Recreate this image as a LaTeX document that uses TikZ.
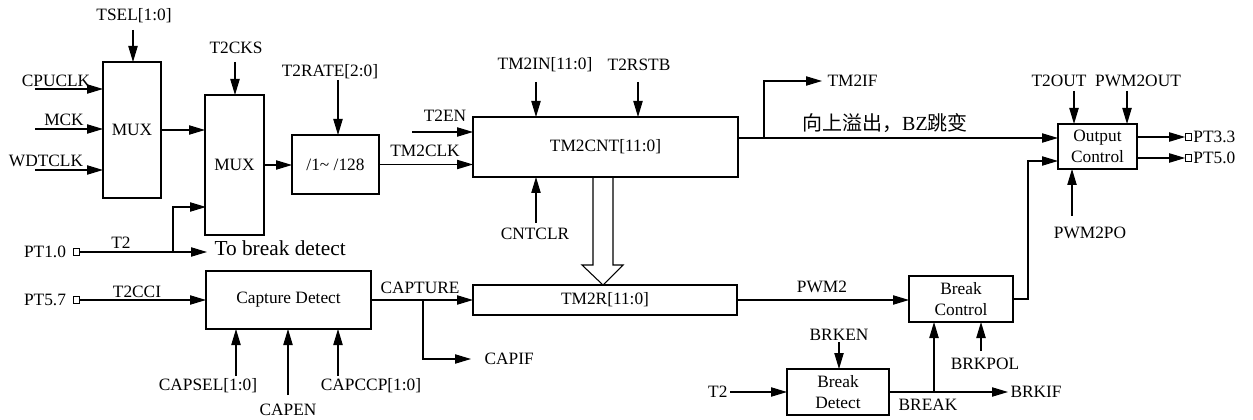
\documentclass[tikz,border=0pt]{standalone}
\usepackage{fontspec}
\setmainfont{Liberation Serif}
\newfontfamily\cjk{Noto Sans CJK SC}
\usetikzlibrary{arrows.meta,calc}
\tikzset{>={Triangle[length=12pt,width=7pt]}}
\newcommand{\sigfont}{\fontsize{13}{16}\selectfont}

\begin{document}
\begin{tikzpicture}[x=0.75pt, y=-0.75pt, line width=0.8pt,
  blk/.style={draw, inner sep=0pt, outer sep=0pt, align=center, font=\sigfont},
  lbl/.style={inner sep=0pt, font=\sigfont},
  pad/.style={draw, line width=0.6pt, minimum size=5pt, inner sep=0pt, outer sep=0pt},
  sig/.style={->}]
\useasboundingbox (0,0) rectangle (1253,420);

\node[blk, minimum width=43.5pt, minimum height=102pt] (mux1) at (132,130) {MUX};
\node[blk, minimum width=44.25pt, minimum height=105pt] (mux2) at (234.5,165) {MUX};
\node[blk, minimum width=65.25pt, minimum height=44.25pt] (div) at (335.5,164.5) {/1\textasciitilde\ /128};
\node[blk, minimum width=198.75pt, minimum height=45pt] (cnt) at (605.5,147) {TM2CNT[11:0]};
\node[blk, minimum width=59.25pt, minimum height=33.75pt] (outc) at (1097.5,146.5) {Output\\Control};
\node[blk, minimum width=123.75pt, minimum height=43.5pt] (capd) at (288.5,300) {Capture Detect};
\node[blk, minimum width=198pt, minimum height=22.5pt] (tm2r) at (605,300) {TM2R[11:0]};
\node[blk, minimum width=78pt, minimum height=34.5pt] (brkc) at (961,299) {Break\\Control};
\node[blk, minimum width=76.5pt, minimum height=34.5pt] (brkd) at (838,392) {Break\\Detect};

\node[pad] (p10) at (76.5,252) {};
\node[pad] (p57) at (76.5,300) {};
\node[pad] (p33) at (1188.5,137) {};
\node[pad] (p50) at (1188.5,158) {};

\node[lbl] (tsel) at (134,16) {TSEL[1:0]};
\node[lbl] (t2cks) at (236,48) {T2CKS};
\node[lbl] (t2rate) at (330,72) {T2RATE[2:0]};
\node[lbl] (cpuclk) at (56,81) {CPUCLK};
\node[lbl] (mck) at (64,120) {MCK};
\node[lbl] (wdtclk) at (46,161) {WDTCLK};
\node[lbl] (t2en) at (445,116) {T2EN};
\node[lbl] (tm2clk) at (425,151) {TM2CLK};
\node[lbl] (tm2in) at (545,65) {TM2IN[11:0]};
\node[lbl] (t2rstb) at (639,65) {T2RSTB};
\node[lbl] (cntclr) at (535,234) {CNTCLR};
\node[lbl, anchor=west, inner xsep=3.75pt] (tm2if) at (822,81) {TM2IF};
\node[lbl, font=\fontsize{15}{18}\selectfont] (ovf) at (885,123) {{\cjk 向上溢出，}BZ{\cjk 跳变}};
\node[lbl] (t2out) at (1059,81) {T2OUT};
\node[lbl] (pwmout) at (1138,81) {PWM2OUT};
\node[lbl] (pwmpo) at (1090,233) {PWM2PO};
\node[lbl, anchor=west, inner xsep=0.75pt] (pt33) at (p33.east) {PT3.3};
\node[lbl, anchor=west, inner xsep=0.75pt] (pt50) at (p50.east) {PT5.0};
\node[lbl] (pt10) at (45,252) {PT1.0};
\node[lbl] (t2a) at (121,243) {T2};
\node[lbl, anchor=west, inner xsep=5.25pt, font=\fontsize{16}{19}\selectfont] (tobrk) at (207,248) {To break detect};
\node[lbl] (pt57) at (45,300) {PT5.7};
\node[lbl] (t2cci) at (137,292) {T2CCI};
\node[lbl] (capsel) at (208,386) {CAPSEL[1:0]};
\node[lbl] (capen) at (288,410) {CAPEN};
\node[lbl] (capccp) at (371,386) {CAPCCP[1:0]};
\node[lbl] (capture) at (420,288) {CAPTURE};
\node[lbl, anchor=west, inner xsep=9.75pt] (capif) at (471,359) {CAPIF};
\node[lbl] (pwm2) at (822,287) {PWM2};
\node[lbl] (brkpol) at (985,364) {BRKPOL};
\node[lbl] (brken) at (839,335) {BRKEN};
\node[lbl, anchor=east, inner xsep=1.5pt] (t2b) at (730,392) {T2};
\node[lbl] (break) at (928,405) {BREAK};
\node[lbl, anchor=west, inner xsep=1.5pt] (brkif) at (1008,392) {BRKIF};

\coordinate (tselin) at (133,30);
\coordinate (t2cksin) at (235,62);
\coordinate (t2ratein) at (338,80);
\coordinate (cpuin) at (35,89);
\coordinate (mckin) at (35,129);
\coordinate (wdtin) at (35,170);
\coordinate (t2enin) at (412,132);
\coordinate (tm2inin) at (536,82);
\coordinate (rstbin) at (638,82);
\coordinate (clrin) at (536,223);
\coordinate (oc1) at (1058,138);
\coordinate (oc2) at (1058,161);
\coordinate (ifbr) at (764,138);
\coordinate (t2outin) at (1074,91);
\coordinate (pwmoutin) at (1127,91);
\coordinate (poin) at (1072,216);
\coordinate (t2br) at (173,252);
\coordinate (mux2in) at (206,207);
\coordinate (capselin) at (236,376);
\coordinate (capenin) at (288,395);
\coordinate (capccpin) at (338,376);
\coordinate (capbr) at (423,300);
\coordinate (polin) at (981,351);
\coordinate (brkenin) at (839,342);
\coordinate (brkbr) at (934,392);

\draw[sig] (tselin) -- (tselin |- mux1.north);
\draw[sig] (t2cksin) -- (t2cksin |- mux2.north);
\draw[sig] (t2ratein) -- (t2ratein |- div.north);
\draw[sig] (cpuin) -- (cpuin -| mux1.west);
\draw[sig] (mckin) -- (mckin -| mux1.west);
\draw[sig] (wdtin) -- (wdtin -| mux1.west);
\draw[sig] (mux1.east) -- (mux1.east -| mux2.west);
\draw[sig] (mux2.east) -- (mux2.east -| div.west);
\draw[sig] (div.east) -- (div.east -| cnt.west);
\draw[sig] (t2enin) -- (t2enin -| cnt.west);
\draw[sig] (tm2inin) -- (tm2inin |- cnt.north);
\draw[sig] (rstbin) -- (rstbin |- cnt.north);
\draw[sig] (clrin) -- (clrin |- cnt.south);
\draw[sig] (cnt.east |- oc1) -- (oc1);
\draw[sig] (ifbr) |- (tm2if.west);
\draw[sig] (t2outin) -- (t2outin |- outc.north);
\draw[sig] (pwmoutin) -- (pwmoutin |- outc.north);
\draw[sig] (poin) -- (poin |- outc.south);
\draw[sig] (outc.east |- p33) -- (p33.west);
\draw[sig] (outc.east |- p50) -- (p50.west);
\draw[sig] (brkc.east) -| ($(oc2)+(-30,0)$) -- (oc2);
\draw (cnt.south) ++(-12.5,0) -- ++(0,88) -- ++(-11,0) -- ++(21,20) -- ++(20,-20) -- ++(-10,0) -- ++(0,-88);

\draw[sig] (p10.east) -- (p10 -| tobrk.west);
\draw[sig] (t2br) |- (mux2in);
\draw[sig] (p57.east) -- (p57 -| capd.west);
\draw[sig] (capselin) -- (capselin |- capd.south);
\draw[sig] (capenin) -- (capenin |- capd.south);
\draw[sig] (capccpin) -- (capccpin |- capd.south);
\draw[sig] (capd.east) -- (capd.east -| tm2r.west);
\draw[sig] (capbr) |- (capif.west);
\draw[sig] (tm2r.east) -- (tm2r.east -| brkc.west);
\draw[sig] (polin) -- (polin |- brkc.south);
\draw[sig] (brkenin) -- (brkenin |- brkd.north);
\draw[sig] (t2b.east) -- (t2b.east -| brkd.west);
\draw[sig] (brkd.east) -- (brkif.west);
\draw[sig] (brkbr) -- (brkbr |- brkc.south);
\end{tikzpicture}
\end{document}
